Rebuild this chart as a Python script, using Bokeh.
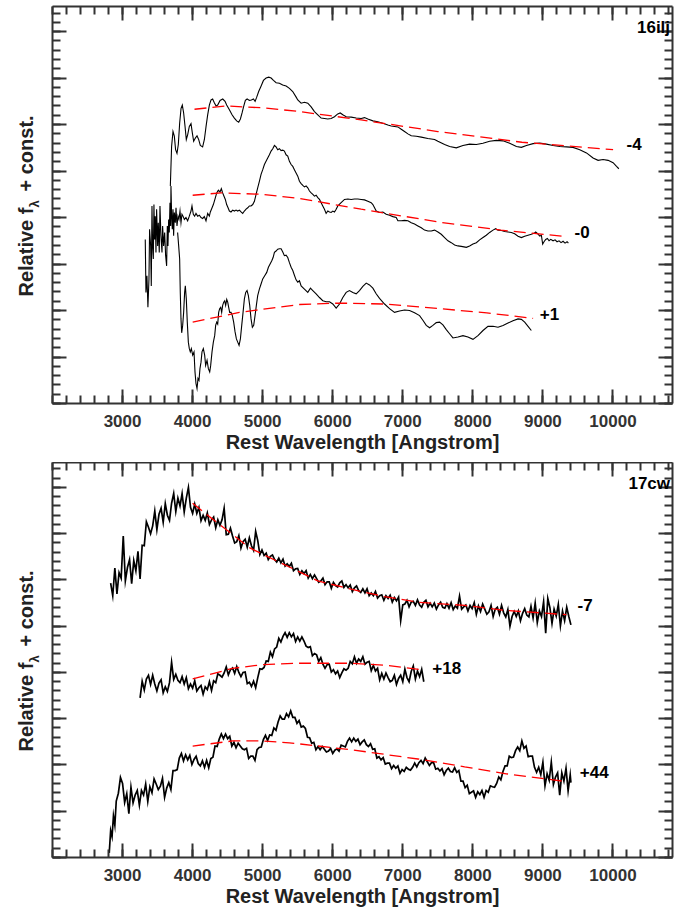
import math
from bokeh.plotting import figure
from bokeh.models import Range1d, FixedTicker, LinearAxis, Label
from bokeh.layouts import column, row
from bokeh.embed import file_html
from bokeh.resources import INLINE

FONT = "Liberation Sans"
AXC = "#333333"

X_TICKS = [3000, 4000, 5000, 6000, 7000, 8000, 9000, 10000]
X_MINOR = list(range(2000, 10900, 200))
Y_TICKS = [0, 1, 2, 3, 4, 5, 6, 7, 8]
Y_MINOR = [i / 5 for i in range(0, 43)]

# ---------------- SN 2016ilj ----------------
WAVE_16ILJ_M4 = [3682, 3700, 3720, 3739, 3757, 3777, 3796, 3815, 3835, 3853, 3872, 3892, 3910, 3929, 3953,
                 3977, 3996, 4015, 4039, 4063, 4086, 4110, 4143, 4168, 4192, 4215, 4239, 4263, 4286, 4310,
                 4335, 4358, 4392, 4430, 4463, 4486, 4525, 4563, 4596, 4629, 4658, 4682, 4706, 4729, 4753,
                 4778, 4811, 4839, 4868, 4892, 4915, 4943, 4978, 5011, 5049, 5086, 5121, 5154, 5192, 5239,
                 5286, 5335, 5382, 5429, 5478, 5501, 5549, 5597, 5644, 5692, 5739, 5787, 5835, 5882, 5929,
                 5978, 6025, 6072, 6107, 6144, 6192, 6264, 6335, 6407, 6454, 6501, 6573, 6644, 6715, 6787,
                 6835, 6883, 6930, 6978, 7025, 7073, 7121, 7193, 7264, 7358, 7454, 7501, 7597, 7669, 7764,
                 7859, 7954, 8050, 8144, 8240, 8336, 8430, 8526, 8622, 8693, 8765, 8859, 8955, 9050, 9145,
                 9241, 9336, 9430, 9526, 9622, 9716, 9788, 9859, 9931, 10002, 10051, 10084]
FLUX_16ILJ_M4 = [4.68, 5.53, 5.85, 5.75, 5.46, 5.38, 5.57, 6.03, 6.35, 6.42, 6.25, 5.96, 5.68, 5.78, 5.96,
                 6.02, 5.82, 5.64, 5.71, 5.76, 5.68, 5.55, 5.52, 5.68, 5.96, 6.21, 6.42, 6.53, 6.55, 6.47,
                 6.40, 6.42, 6.52, 6.55, 6.50, 6.42, 6.32, 6.21, 6.14, 6.08, 6.05, 6.12, 6.25, 6.39, 6.52,
                 6.55, 6.52, 6.53, 6.55, 6.50, 6.59, 6.71, 6.83, 6.95, 7.00, 7.02, 7.00, 6.95, 6.90, 6.89,
                 6.85, 6.83, 6.78, 6.71, 6.59, 6.53, 6.46, 6.48, 6.46, 6.38, 6.28, 6.21, 6.14, 6.13, 6.12,
                 6.13, 6.17, 6.23, 6.25, 6.21, 6.17, 6.16, 6.14, 6.13, 6.15, 6.12, 6.08, 6.06, 6.03, 5.99,
                 5.97, 5.96, 5.95, 5.90, 5.85, 5.80, 5.76, 5.75, 5.73, 5.70, 5.68, 5.64, 5.57, 5.53, 5.50,
                 5.55, 5.58, 5.57, 5.60, 5.64, 5.66, 5.65, 5.60, 5.53, 5.51, 5.55, 5.59, 5.60, 5.58, 5.55,
                 5.53, 5.52, 5.51, 5.46, 5.39, 5.28, 5.23, 5.25, 5.23, 5.18, 5.10, 5.05]

WAVE_16ILJ_M0 = [3324, 3334, 3348, 3362, 3377, 3386, 3401, 3410, 3420, 3429, 3439, 3448, 3458, 3467, 3477,
                 3486, 3501, 3510, 3524, 3534, 3548, 3563, 3572, 3586, 3601, 3615, 3629, 3639, 3648, 3658,
                 3667, 3677, 3686, 3691, 3701, 3710, 3720, 3729, 3739, 3753, 3763, 3777, 3791, 3805, 3820,
                 3834, 3848, 3863, 3882, 3905, 3929, 3953, 3977, 3991, 4010, 4029, 4048, 4072, 4096, 4120,
                 4144, 4167, 4191, 4215, 4239, 4253, 4272, 4296, 4320, 4344, 4367, 4391, 4410, 4429, 4448,
                 4467, 4486, 4506, 4525, 4548, 4572, 4596, 4620, 4644, 4668, 4691, 4715, 4739, 4763, 4787,
                 4810, 4834, 4858, 4882, 4906, 4929, 4953, 4977, 5001, 5025, 5048, 5072, 5096, 5120, 5144,
                 5168, 5191, 5215, 5239, 5263, 5287, 5310, 5334, 5358, 5382, 5406, 5430, 5453, 5477, 5501,
                 5525, 5549, 5573, 5596, 5620, 5644, 5668, 5692, 5716, 5739, 5763, 5787, 5811, 5835, 5858,
                 5882, 5906, 5930, 5954, 5978, 6001, 6025, 6049, 6073, 6120, 6168, 6216, 6263, 6311, 6359,
                 6406, 6454, 6501, 6549, 6573, 6597, 6621, 6668, 6716, 6763, 6811, 6859, 6906, 6930, 6978,
                 7025, 7073, 7121, 7168, 7216, 7264, 7311, 7359, 7406, 7454, 7502, 7549, 7597, 7645, 7692,
                 7740, 7787, 7835, 7873, 7907, 7954, 8002, 8050, 8097, 8145, 8192, 8240, 8288, 8326, 8359,
                 8407, 8454, 8502, 8550, 8597, 8645, 8693, 8740, 8788, 8835, 8873, 8897, 8921, 8955, 8978,
                 8997, 9016, 9040, 9064, 9088, 9112, 9145, 9174, 9202, 9231, 9259, 9288, 9316, 9345, 9364]
FLUX_16ILJ_M0 = [3.53, 2.39, 2.75, 2.07, 2.68, 3.75, 3.39, 2.53, 4.25, 3.39, 3.11, 4.28, 3.53, 4.03, 3.25,
                 4.18, 3.39, 3.89, 3.25, 4.25, 3.61, 3.25, 3.82, 3.39, 3.68, 3.18, 2.96, 3.82, 3.39, 3.96,
                 3.68, 4.32, 3.82, 4.68, 4.03, 3.75, 4.18, 3.61, 4.11, 3.89, 4.21, 3.82, 4.03, 3.96, 4.14,
                 3.89, 4.07, 4.03, 3.96, 4.00, 3.93, 4.03, 4.14, 4.25, 4.07, 4.03, 4.09, 4.03, 4.05, 4.00,
                 3.98, 4.02, 3.93, 4.09, 4.03, 4.12, 4.19, 4.28, 4.40, 4.53, 4.59, 4.55, 4.62, 4.53, 4.46,
                 4.39, 4.28, 4.21, 4.14, 4.12, 4.16, 4.14, 4.16, 4.14, 4.16, 4.12, 4.09, 4.14, 4.18, 4.21,
                 4.25, 4.25, 4.28, 4.35, 4.50, 4.64, 4.78, 4.93, 5.03, 5.14, 5.21, 5.28, 5.35, 5.43, 5.48,
                 5.55, 5.52, 5.46, 5.48, 5.44, 5.45, 5.43, 5.35, 5.32, 5.21, 5.14, 5.10, 5.03, 4.96, 4.89,
                 4.78, 4.73, 4.69, 4.66, 4.68, 4.64, 4.57, 4.53, 4.50, 4.46, 4.48, 4.43, 4.39, 4.32, 4.25,
                 4.18, 4.09, 4.14, 4.12, 4.11, 4.14, 4.12, 4.18, 4.25, 4.32, 4.39, 4.40, 4.39, 4.40, 4.40,
                 4.39, 4.38, 4.35, 4.32, 4.28, 4.21, 4.14, 4.11, 4.12, 4.07, 4.05, 4.02, 4.00, 3.93, 3.93,
                 3.94, 3.93, 3.89, 3.86, 3.82, 3.78, 3.73, 3.71, 3.71, 3.73, 3.69, 3.64, 3.57, 3.50, 3.46,
                 3.41, 3.39, 3.38, 3.37, 3.36, 3.39, 3.43, 3.46, 3.52, 3.57, 3.62, 3.68, 3.73, 3.76, 3.73,
                 3.72, 3.70, 3.69, 3.68, 3.65, 3.60, 3.57, 3.60, 3.62, 3.64, 3.66, 3.69, 3.66, 3.60, 3.62,
                 3.43, 3.48, 3.53, 3.55, 3.50, 3.53, 3.50, 3.52, 3.48, 3.50, 3.46, 3.49, 3.45, 3.48, 3.45]

WAVE_16ILJ_P1 = [3786, 3801, 3815, 3824, 3834, 3844, 3858, 3872, 3886, 3896, 3910, 3924, 3939, 3953, 3967,
                 3982, 4001, 4020, 4034, 4048, 4063, 4077, 4091, 4105, 4120, 4134, 4153, 4172, 4186, 4206,
                 4225, 4244, 4258, 4277, 4296, 4315, 4329, 4344, 4358, 4372, 4386, 4401, 4415, 4429, 4444,
                 4458, 4472, 4487, 4501, 4515, 4529, 4548, 4567, 4586, 4606, 4625, 4644, 4663, 4682, 4701,
                 4720, 4739, 4758, 4777, 4796, 4815, 4834, 4853, 4872, 4891, 4910, 4929, 4953, 4977, 5001,
                 5029, 5058, 5082, 5106, 5130, 5149, 5168, 5191, 5215, 5239, 5263, 5287, 5310, 5334, 5358,
                 5382, 5406, 5430, 5453, 5477, 5501, 5525, 5549, 5596, 5644, 5682, 5716, 5763, 5811, 5858,
                 5906, 5954, 6001, 6049, 6097, 6144, 6192, 6239, 6287, 6335, 6382, 6430, 6478, 6525, 6573,
                 6620, 6668, 6740, 6811, 6882, 6954, 7025, 7097, 7168, 7240, 7287, 7335, 7383, 7430, 7478,
                 7525, 7573, 7621, 7668, 7716, 7788, 7859, 7930, 8002, 8073, 8145, 8216, 8288, 8359, 8431,
                 8502, 8573, 8645, 8693, 8740, 8788, 8835]
FLUX_16ILJ_P1 = [3.68, 3.39, 3.11, 2.39, 1.82, 1.52, 1.68, 1.96, 2.39, 2.53, 2.25, 1.75, 1.32, 1.18, 1.11,
                 1.18, 1.04, 1.11, 0.68, 0.43, 0.32, 0.54, 0.50, 0.75, 0.89, 1.11, 1.18, 1.04, 0.82, 0.93,
                 0.75, 0.68, 0.82, 1.11, 1.32, 1.46, 1.68, 1.75, 1.71, 1.96, 2.04, 2.07, 1.96, 2.11, 2.18,
                 2.21, 2.11, 2.24, 2.18, 2.07, 1.96, 1.96, 1.89, 1.75, 1.54, 1.39, 1.32, 1.25, 1.39, 1.68,
                 1.96, 2.25, 2.39, 2.43, 2.32, 2.11, 1.82, 1.64, 1.68, 1.89, 2.11, 2.32, 2.46, 2.57, 2.68,
                 2.75, 2.82, 2.93, 3.00, 3.07, 3.14, 3.25, 3.28, 3.32, 3.33, 3.33, 3.26, 3.18, 3.19, 3.14,
                 3.03, 2.93, 2.86, 2.76, 2.66, 2.61, 2.64, 2.53, 2.46, 2.39, 2.48, 2.43, 2.36, 2.28, 2.21,
                 2.19, 2.19, 2.14, 2.05, 2.14, 2.28, 2.39, 2.43, 2.39, 2.36, 2.43, 2.52, 2.59, 2.55, 2.48,
                 2.36, 2.26, 2.14, 2.04, 1.96, 1.99, 2.01, 2.00, 1.95, 1.89, 1.79, 1.68, 1.63, 1.68, 1.74,
                 1.75, 1.69, 1.59, 1.50, 1.41, 1.43, 1.46, 1.43, 1.38, 1.46, 1.57, 1.66, 1.66, 1.64, 1.68,
                 1.73, 1.78, 1.82, 1.81, 1.75, 1.66, 1.57]

FIT_16ILJ_M4_W = [4027, 4477, 5000, 5525, 6407, 7500, 8700, 10002]
FIT_16ILJ_M4_F = [6.33, 6.40, 6.36, 6.28, 6.10, 5.85, 5.62, 5.46]
FIT_16ILJ_M0_W = [4001, 4405, 5000, 5525, 6406, 7526, 8400, 9340]
FIT_16ILJ_M0_F = [4.48, 4.53, 4.50, 4.41, 4.18, 3.90, 3.73, 3.59]
FIT_16ILJ_P1_W = [4001, 4668, 5525, 6100, 6740, 7526, 8200, 8860]
FIT_16ILJ_P1_F = [1.75, 1.96, 2.13, 2.16, 2.14, 2.04, 1.95, 1.83]

# ---------------- SN 2017cw ----------------
WAVE_17CW_M7 = [2830, 2860, 2890, 2920, 2950, 2980, 3010, 3040, 3070, 3100,
                3130, 3160, 3190, 3220, 3250, 3280, 3310, 3340, 3370, 3400,
                3430, 3460, 3490, 3520, 3550, 3580, 3610, 3640, 3670, 3700,
                3730, 3760, 3790, 3820, 3850, 3880, 3910, 3940, 3970, 4000,
                4030, 4060, 4090, 4120, 4150, 4180, 4210, 4240, 4270, 4300,
                4330, 4360, 4390, 4420, 4450, 4480, 4510, 4540, 4570, 4600,
                4630, 4660, 4690, 4720, 4750, 4780, 4810, 4840, 4870, 4900,
                4930, 4960, 4990, 5020, 5050, 5080, 5110, 5140, 5170, 5200,
                5230, 5260, 5290, 5320, 5350, 5380, 5410, 5440, 5470, 5500,
                5530, 5560, 5590, 5620, 5650, 5680, 5710, 5740, 5770, 5800,
                5830, 5860, 5890, 5920, 5950, 5980, 6010, 6040, 6070, 6100,
                6130, 6160, 6190, 6220, 6250, 6280, 6310, 6340, 6370, 6400,
                6430, 6460, 6490, 6520, 6550, 6580, 6610, 6640, 6670, 6700,
                6730, 6760, 6790, 6820, 6850, 6880, 6910, 6940, 6970, 7000,
                7030, 7060, 7090, 7120, 7150, 7180, 7210, 7240, 7270, 7300,
                7330, 7360, 7390, 7420, 7450, 7480, 7510, 7540, 7570, 7600,
                7630, 7660, 7690, 7720, 7750, 7780, 7810, 7840, 7870, 7900,
                7930, 7960, 7990, 8020, 8050, 8080, 8110, 8140, 8170, 8200,
                8230, 8260, 8290, 8320, 8350, 8380, 8410, 8440, 8470, 8500,
                8530, 8560, 8590, 8620, 8650, 8680, 8710, 8740, 8770, 8800,
                8830, 8860, 8890, 8920, 8950, 8980, 9010, 9040, 9070, 9100,
                9130, 9160, 9190, 9220, 9250, 9280, 9310, 9340, 9370, 9400]
FLUX_17CW_M7 = [5.93, 5.66, 6.26, 5.70, 6.16, 6.04, 6.95, 5.98, 6.27, 6.44,
                5.92, 6.42, 6.20, 6.62, 6.02, 6.75, 6.74, 7.26, 7.14, 7.00,
                7.17, 7.49, 7.09, 7.42, 7.55, 7.25, 7.65, 7.40, 7.29, 7.66,
                7.87, 7.48, 7.77, 7.60, 7.87, 7.47, 7.77, 8.00, 7.57, 7.44,
                7.64, 7.44, 7.57, 7.28, 7.40, 7.29, 7.45, 7.20, 7.30, 7.36,
                7.13, 7.30, 7.18, 7.30, 7.55, 6.98, 6.99, 7.12, 6.95, 6.80,
                6.83, 6.96, 6.69, 6.83, 6.88, 6.71, 6.91, 6.74, 6.64, 7.05,
                6.85, 6.55, 6.65, 6.53, 6.58, 6.44, 6.51, 6.54, 6.44, 6.39,
                6.47, 6.37, 6.45, 6.30, 6.35, 6.29, 6.36, 6.20, 6.24, 6.25,
                6.12, 6.20, 6.14, 6.20, 6.04, 6.12, 6.03, 6.11, 6.03, 5.95,
                5.98, 6.04, 5.90, 5.96, 5.96, 5.82, 5.95, 5.88, 5.85, 5.94,
                5.98, 5.84, 5.90, 5.83, 5.89, 5.75, 5.83, 5.87, 5.77, 5.73,
                5.81, 5.72, 5.81, 5.66, 5.72, 5.66, 5.75, 5.61, 5.66, 5.68,
                5.56, 5.66, 5.60, 5.67, 5.52, 5.62, 5.55, 5.63, 5.12, 5.46,
                5.48, 5.56, 5.42, 5.52, 5.54, 5.45, 5.57, 5.46, 5.41, 5.52,
                5.56, 5.42, 5.50, 5.42, 5.50, 5.37, 5.46, 5.52, 5.41, 5.39,
                5.49, 5.39, 5.51, 5.36, 5.44, 5.39, 5.65, 5.37, 5.42, 5.46,
                5.33, 5.45, 5.38, 5.51, 5.26, 5.44, 5.32, 5.48, 5.37, 5.26,
                5.31, 5.45, 5.21, 5.37, 5.41, 5.26, 5.45, 5.29, 5.20, 5.36,
                5.00, 5.21, 5.32, 5.21, 5.33, 5.12, 5.28, 5.38, 5.24, 5.20,
                5.43, 5.18, 5.50, 5.08, 5.33, 5.21, 5.53, 4.85, 5.60, 5.40,
                5.06, 5.37, 5.22, 5.47, 5.01, 5.33, 5.12, 5.41, 5.21, 5.03]

WAVE_17CW_P18 = [3250, 3280, 3310, 3340, 3370, 3400, 3430, 3460, 3490, 3520,
                 3550, 3580, 3610, 3640, 3670, 3700, 3730, 3760, 3790, 3820,
                 3850, 3880, 3910, 3940, 3970, 4000, 4030, 4060, 4090, 4120,
                 4150, 4180, 4210, 4240, 4270, 4300, 4330, 4360, 4390, 4420,
                 4450, 4480, 4510, 4540, 4570, 4600, 4630, 4660, 4690, 4720,
                 4750, 4780, 4810, 4840, 4870, 4900, 4930, 4960, 4990, 5020,
                 5050, 5080, 5110, 5140, 5170, 5200, 5230, 5260, 5290, 5320,
                 5350, 5380, 5410, 5440, 5470, 5500, 5530, 5560, 5590, 5620,
                 5650, 5680, 5710, 5740, 5770, 5800, 5830, 5860, 5890, 5920,
                 5950, 5980, 6010, 6040, 6070, 6100, 6130, 6160, 6190, 6220,
                 6250, 6280, 6310, 6340, 6370, 6400, 6430, 6460, 6490, 6520,
                 6550, 6580, 6610, 6640, 6670, 6700, 6730, 6760, 6790, 6820,
                 6850, 6880, 6910, 6940, 6970, 7000, 7030, 7060, 7090, 7120,
                 7150, 7180, 7210, 7240, 7270, 7300]
FLUX_17CW_P18 = [3.45, 3.81, 3.62, 3.86, 3.94, 3.74, 3.94, 3.75, 3.60, 3.77,
                 3.84, 3.56, 3.69, 3.59, 3.78, 4.22, 3.85, 3.96, 3.83, 3.78,
                 3.91, 3.75, 3.89, 3.65, 3.75, 3.66, 3.82, 3.60, 3.67, 3.72,
                 3.53, 3.69, 3.63, 3.80, 3.61, 3.82, 3.78, 3.97, 3.94, 3.90,
                 3.99, 4.12, 3.95, 4.06, 4.10, 3.98, 4.13, 4.00, 3.91, 4.00,
                 4.01, 3.76, 3.79, 3.70, 3.81, 3.67, 3.89, 4.08, 4.07, 4.11,
                 4.25, 4.24, 4.44, 4.34, 4.51, 4.55, 4.74, 4.66, 4.78, 4.86,
                 4.76, 4.86, 4.77, 4.84, 4.67, 4.77, 4.68, 4.77, 4.68, 4.57,
                 4.54, 4.56, 4.36, 4.41, 4.38, 4.24, 4.32, 4.18, 4.09, 4.17,
                 4.18, 4.01, 4.06, 3.97, 4.03, 3.89, 3.99, 4.08, 4.05, 4.09,
                 4.24, 4.19, 4.34, 4.20, 4.29, 4.24, 4.34, 4.18, 4.22, 4.24,
                 4.04, 4.15, 4.03, 4.09, 3.84, 3.98, 3.86, 3.99, 3.89, 3.80,
                 3.83, 3.94, 3.74, 3.87, 3.94, 3.80, 4.07, 3.89, 3.80, 4.02,
                 4.14, 3.86, 4.03, 3.91, 4.07, 3.80]

WAVE_17CW_P44 = [2810, 2830, 2850, 2870, 2890, 2910,
                 2940, 2970, 3000, 3030, 3060, 3090, 3120, 3150, 3180, 3210,
                 3240, 3270, 3300, 3330, 3360, 3390, 3420, 3450, 3480, 3510,
                 3540, 3570, 3600, 3630, 3660, 3690, 3720, 3750, 3780, 3810,
                 3840, 3870, 3900, 3930, 3960, 3990, 4020, 4050, 4080, 4110,
                 4140, 4170, 4200, 4230, 4260, 4290, 4320, 4350, 4380, 4410,
                 4440, 4470, 4500, 4530, 4560, 4590, 4620, 4650, 4680, 4710,
                 4740, 4770, 4800, 4830, 4860, 4890, 4920, 4950, 4980, 5010,
                 5040, 5070, 5100, 5130, 5160, 5190, 5220, 5250, 5280, 5310,
                 5340, 5370, 5400, 5430, 5460, 5490, 5520, 5550, 5580, 5610,
                 5640, 5670, 5700, 5730, 5760, 5790, 5820, 5850, 5880, 5910,
                 5940, 5970, 6000, 6030, 6060, 6090, 6120, 6150, 6180, 6210,
                 6240, 6270, 6300, 6330, 6360, 6390, 6420, 6450, 6480, 6510,
                 6540, 6570, 6600, 6630, 6660, 6690, 6720, 6750, 6780, 6810,
                 6840, 6870, 6900, 6930, 6960, 6990, 7020, 7050, 7080, 7110,
                 7140, 7170, 7200, 7230, 7260, 7290, 7320, 7350, 7380, 7410,
                 7440, 7470, 7500, 7530, 7560, 7590, 7620, 7650, 7680, 7710,
                 7740, 7770, 7800, 7830, 7860, 7890, 7920, 7950, 7980, 8010,
                 8040, 8070, 8100, 8130, 8160, 8190, 8220, 8250, 8280, 8310,
                 8340, 8370, 8400, 8430, 8460, 8490, 8520, 8550, 8580, 8610,
                 8640, 8670, 8700, 8730, 8760, 8790, 8820, 8850, 8880, 8910,
                 8940, 8970, 9000, 9030, 9060, 9090, 9120, 9150, 9180, 9210,
                 9240, 9270, 9300, 9330, 9360, 9390,
                 9400]
FLUX_17CW_P44 = [0.10, 0.58, 0.45, 0.90, 0.70, 1.22,
                 1.39, 1.73, 1.60, 1.19, 1.38, 0.95, 1.52, 1.18, 1.35, 1.45,
                 1.13, 1.45, 1.35, 1.59, 1.21, 1.53, 1.40, 1.70, 1.59, 1.47,
                 1.54, 1.71, 1.30, 1.50, 1.62, 1.47, 1.88, 1.88, 1.90, 2.15,
                 2.25, 2.09, 2.22, 2.11, 2.21, 2.01, 2.12, 2.19, 2.03, 1.98,
                 2.09, 1.95, 2.10, 1.94, 2.14, 2.17, 2.41, 2.40, 2.56, 2.67,
                 2.57, 2.67, 2.57, 2.62, 2.41, 2.49, 2.37, 2.47, 2.41, 2.35,
                 2.33, 2.36, 2.14, 2.19, 2.19, 2.10, 2.33, 2.38, 2.39, 2.55,
                 2.64, 2.53, 2.65, 2.64, 2.80, 2.75, 2.93, 3.06, 2.99, 2.99,
                 3.11, 3.04, 3.17, 3.03, 3.03, 2.90, 2.96, 2.82, 2.84, 2.79,
                 2.60, 2.59, 2.47, 2.49, 2.33, 2.40, 2.33, 2.40, 2.34, 2.28,
                 2.30, 2.36, 2.25, 2.32, 2.35, 2.30, 2.43, 2.41, 2.39, 2.51,
                 2.58, 2.50, 2.58, 2.51, 2.56, 2.44, 2.50, 2.54, 2.44, 2.40,
                 2.46, 2.34, 2.35, 2.15, 2.18, 2.11, 2.16, 2.02, 2.04, 2.04,
                 1.92, 1.99, 1.93, 1.98, 1.82, 1.90, 1.86, 1.95, 1.91, 1.89,
                 1.95, 2.04, 1.96, 2.05, 2.10, 2.03, 2.15, 2.07, 1.99, 2.05,
                 2.05, 1.91, 1.93, 1.87, 1.92, 1.79, 1.88, 1.93, 1.86, 1.85,
                 1.94, 1.84, 1.88, 1.65, 1.65, 1.51, 1.56, 1.38, 1.41, 1.44,
                 1.30, 1.42, 1.36, 1.45, 1.30, 1.45, 1.41, 1.55, 1.53, 1.52,
                 1.60, 1.74, 1.68, 1.86, 1.98, 1.98, 2.19, 2.16, 2.17, 2.31,
                 2.39, 2.31, 2.52, 2.36, 2.41, 2.18, 2.19, 2.19, 1.95, 1.84,
                 1.95, 1.79, 2.06, 1.55, 1.81, 1.67, 2.06, 1.58, 1.74, 1.83,
                 1.35, 1.83, 1.65, 1.93, 1.44, 1.79,
                 1.62]

FIT_17CW_M7_W = [4000, 4239, 4572, 4810, 5049, 5382, 5787, 6264, 6740, 7216, 7883, 8478, 9335]
FIT_17CW_M7_F = [7.66, 7.37, 6.98, 6.70, 6.52, 6.28, 5.98, 5.80, 5.64, 5.52, 5.45, 5.34, 5.25]
FIT_17CW_P18_W = [4001, 4572, 5000, 5500, 6264, 6800, 7311]
FIT_17CW_P18_F = [3.86, 4.09, 4.17, 4.20, 4.20, 4.15, 4.05]
FIT_17CW_P44_W = [4001, 4572, 5000, 5382, 6264, 7216, 7883, 8478, 9335]
FIT_17CW_P44_F = [2.41, 2.52, 2.52, 2.48, 2.33, 2.13, 1.96, 1.81, 1.64]

EPOCHS_16ILJ = ["-4", "-0", "+1"]
EPOCH_POS_16ILJ = [(10194, 5.59), (9452, 3.68), (8955, 1.93)]
EPOCHS_17CW = ["-7", "+18", "+44"]
EPOCH_POS_17CW = [(9495, 5.46), (7422, 4.09), (9526, 1.84)]

for a, b in [(WAVE_16ILJ_M4, FLUX_16ILJ_M4), (WAVE_16ILJ_M0, FLUX_16ILJ_M0), (WAVE_16ILJ_P1, FLUX_16ILJ_P1),
             (WAVE_17CW_M7, FLUX_17CW_M7), (WAVE_17CW_P18, FLUX_17CW_P18), (WAVE_17CW_P44, FLUX_17CW_P44)]:
    assert len(a) == len(b), (len(a), len(b))

LABEL_W = 48


def style_axis(ax, ticker, show):
    ax.ticker = ticker
    ax.axis_line_color = AXC
    ax.axis_line_width = 2
    ax.major_tick_line_color = AXC
    ax.minor_tick_line_color = AXC
    ax.major_tick_line_width = 2
    ax.minor_tick_line_width = 2
    ax.major_tick_in = 14
    ax.major_tick_out = 0
    ax.minor_tick_in = 8
    ax.minor_tick_out = 0
    if show:
        ax.major_label_text_font = FONT
        ax.major_label_text_font_style = "bold"
        ax.major_label_text_font_size = "17px"
        ax.major_label_text_color = AXC
        ax.major_label_standoff = 11
        ax.axis_label = "Rest Wavelength [Angstrom]"
        ax.axis_label_text_font = FONT
        ax.axis_label_text_font_style = "bold"
        ax.axis_label_text_font_size = "20px"
        ax.axis_label_text_color = "#222222"
        ax.axis_label_standoff = 1
    else:
        ax.axis_label = None
        ax.major_label_overrides = {t: "" for t in ticker.ticks}
        ax.major_label_text_color = None
        ax.major_label_text_font_size = "1px"
        ax.major_label_standoff = 0


def make_panel(height, top_b, bottom_b, spectra, fits, epochs, epoch_pos, name, lw):
    p = figure(width=675 - LABEL_W, height=height, x_range=Range1d(2000, 10850), y_range=Range1d(0, 8.54),
               output_backend="svg", toolbar_location=None,
               min_border_left=4, min_border_right=3, min_border_top=top_b, min_border_bottom=bottom_b)
    p.grid.visible = False
    p.outline_line_color = None
    p.background_fill_color = "white"
    p.border_fill_color = "white"
    xt = FixedTicker(ticks=X_TICKS, minor_ticks=X_MINOR)
    yt = FixedTicker(ticks=Y_TICKS, minor_ticks=Y_MINOR)
    style_axis(p.xaxis[0], xt, True)
    style_axis(p.yaxis[0], yt, False)
    top = LinearAxis()
    style_axis(top, FixedTicker(ticks=X_TICKS, minor_ticks=X_MINOR), False)
    p.add_layout(top, "above")
    right = LinearAxis()
    style_axis(right, FixedTicker(ticks=Y_TICKS, minor_ticks=Y_MINOR), False)
    p.add_layout(right, "right")

    for w, f in spectra:
        p.line(w, f, line_color="black", line_width=lw, line_join="miter")
    for w, f in fits:
        p.line(w, f, line_color="#ff0000", line_width=1.3, line_dash="12 6")

    for txt, (x, y) in zip(epochs, epoch_pos):
        p.add_layout(Label(x=x, y=y, text=txt, text_font=FONT, text_font_style="bold",
                           text_font_size="17px", text_color="black",
                           text_align="left", text_baseline="middle"))
    p.add_layout(Label(x=10815, y=8.29, text=name, text_font=FONT, text_font_style="bold",
                       text_font_size="17px", text_color="black",
                       text_align="right", text_baseline="top"))
    return p


def ylabel_strip(height, y_start):
    # narrow companion canvas holding the vertical y-axis title (with subscript lambda)
    f = figure(width=LABEL_W, height=height, x_range=Range1d(0, LABEL_W), y_range=Range1d(0, height),
               output_backend="svg", toolbar_location=None, min_border=0,
               x_axis_location=None, y_axis_location=None)
    f.frame_align = False
    f.grid.visible = False
    f.outline_line_color = None
    f.background_fill_color = "white"
    f.border_fill_color = "white"
    common = dict(angle=math.pi / 2, text_font=FONT, text_font_style="bold", text_color="#222222",
                  text_baseline="alphabetic", text_align="left")
    f.add_layout(Label(x=25, y=y_start, text="Relative f", text_font_size="20px", **common))
    f.add_layout(Label(x=34, y=y_start + 89, text="λ", text_font_size="13px", **common))
    f.add_layout(Label(x=25, y=y_start + 105, text="+ const.", text_font_size="20px", **common))
    return f


H1, H2 = 462, 448
p1 = make_panel(H1, 6, 59,
                [(WAVE_16ILJ_M4, FLUX_16ILJ_M4), (WAVE_16ILJ_M0, FLUX_16ILJ_M0), (WAVE_16ILJ_P1, FLUX_16ILJ_P1)],
                [(FIT_16ILJ_M4_W, FIT_16ILJ_M4_F), (FIT_16ILJ_M0_W, FIT_16ILJ_M0_F), (FIT_16ILJ_P1_W, FIT_16ILJ_P1_F)],
                EPOCHS_16ILJ, EPOCH_POS_16ILJ, "16ilj", 1.1)
p2 = make_panel(H2, 0, 53,
                [(WAVE_17CW_M7, FLUX_17CW_M7), (WAVE_17CW_P18, FLUX_17CW_P18), (WAVE_17CW_P44, FLUX_17CW_P44)],
                [(FIT_17CW_M7_W, FIT_17CW_M7_F), (FIT_17CW_P18_W, FIT_17CW_P18_F), (FIT_17CW_P44_W, FIT_17CW_P44_F)],
                EPOCHS_17CW, EPOCH_POS_17CW, "17cw", 1.7)
l1 = ylabel_strip(H1, 166)
l2 = ylabel_strip(H2, 159)

layout = column(row(l1, p1, spacing=0), row(l2, p2, spacing=0), spacing=0)
open("out.html", "w").write(file_html(layout, INLINE))
